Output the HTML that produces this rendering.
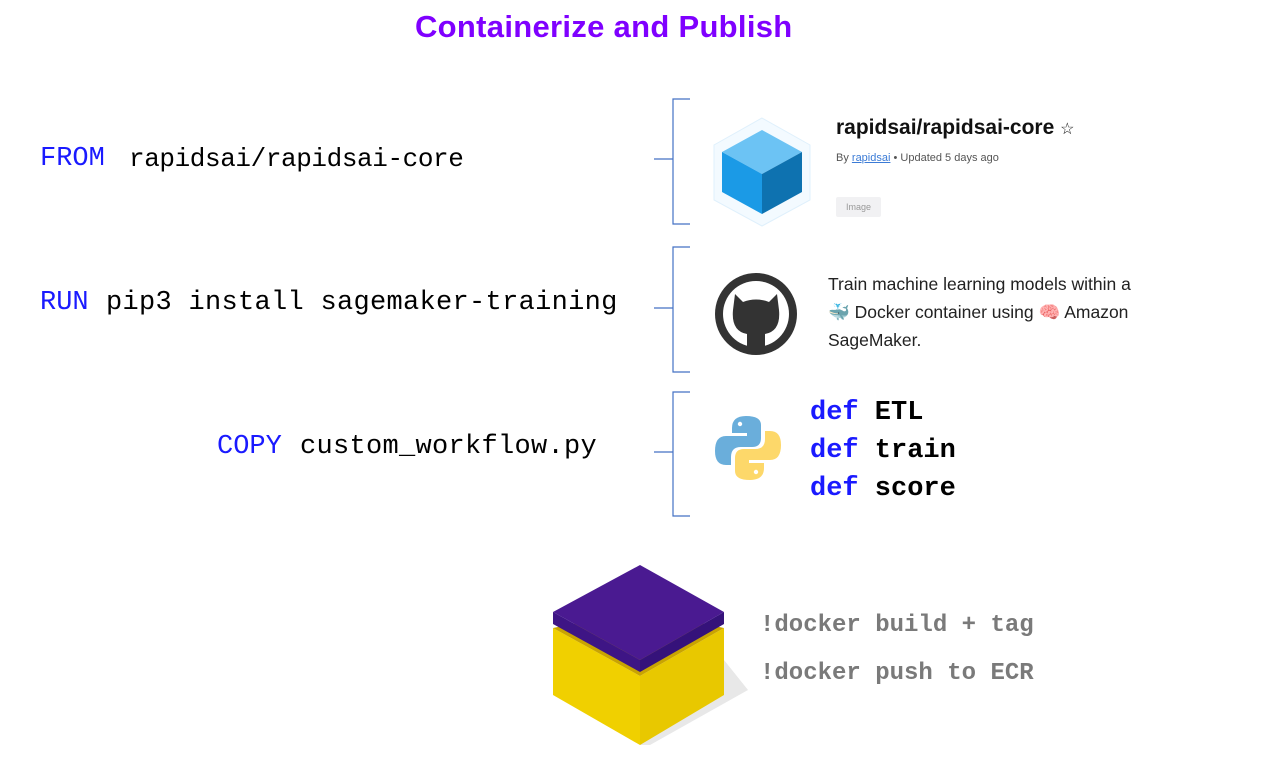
<!DOCTYPE html>
<html><head><meta charset="utf-8"><style>
body{margin:0;width:1272px;height:759px;background:#fff;position:relative;overflow:hidden;font-family:"Liberation Sans",sans-serif}
.t{position:absolute;white-space:pre;line-height:1}
.m{font-family:"Liberation Mono","DejaVu Sans Mono",monospace;font-size:27px}
.kw{color:#1a1aff}
.d{font-weight:bold;color:#000}
.g{font-family:"Liberation Mono",monospace;font-weight:bold;color:#7a7a7a;font-size:24px}
</style></head><body>
<div class="t" style="left:415px;top:11px;font-size:31px;font-weight:bold;color:#7f00ff;letter-spacing:0.3px">Containerize and Publish</div>

<div class="t m" style="left:40px;top:146px"><span class="kw">FROM</span></div>
<div class="t m" style="left:129px;top:146px;font-size:26px;letter-spacing:-0.4px">rapidsai/rapidsai-core</div>
<div class="t m" style="left:40px;top:290px"><span class="kw">RUN</span></div>
<div class="t m" style="left:106px;top:290px;letter-spacing:0.3px">pip3 install sagemaker-training</div>
<div class="t m" style="left:217px;top:434px"><span class="kw">COPY</span></div>
<div class="t m" style="left:300px;top:434px;letter-spacing:0.3px">custom_workflow.py</div>

<svg width="1272" height="759" style="position:absolute;left:0;top:0" xmlns="http://www.w3.org/2000/svg">
<g stroke="#4472c4" stroke-width="1.2" fill="none">
<path d="M690 99H673V224H690M654 159H673"/>
<path d="M690 247H673V372H690M654 308H673"/>
<path d="M690 392H673V516H690M654 452H673"/>
</g>
<!-- blue cube -->
<polygon points="762,118 810,145 810,200 762,226 714,200 714,145" fill="#f3faff" stroke="#dff0fc"/>
<polygon points="762,130 802,152 762,174 722,152" fill="#6cc3f4"/>
<polygon points="722,152 762,174 762,214 722,192" fill="#1b9ae6"/>
<polygon points="802,152 762,174 762,214 802,192" fill="#0e72b0"/>
<!-- github -->
<circle cx="756" cy="314" r="41" fill="#333"/>
<circle cx="756" cy="314" r="33" fill="#fff"/>
<path d="M735 294 L743 302 Q756 297 769 302 L777 294 L779 310 Q781 331 765 334 L765 351 Q756 354 747 351 L747 334 Q731 331 733 310 Z" fill="#333"/>
<!-- python -->
<path d="M746 416 Q732 416 732 428 L732 433 L747 433 L747 436 L726 436 Q715 436 715 451 Q715 465 726 465 L731 465 L731 457 Q731 447 741 447 L752 447 Q761 447 761 438 L761 425 Q761 416 746 416Z" fill="#6aaedb"/>
<path d="M750 480 Q764 480 764 468 L764 463 L749 463 L749 460 L770 460 Q781 460 781 445 Q781 431 770 431 L765 431 L765 439 Q765 449 755 449 L744 449 Q735 449 735 458 L735 471 Q735 480 750 480Z" fill="#fdd86a"/>
<circle cx="740" cy="424" r="2.2" fill="#fff"/><circle cx="756" cy="472" r="2.2" fill="#fff"/>
<!-- shadow -->
<polygon points="724,660 748,690 650,745 640,745" fill="#e8e8e8"/>
<!-- yellow body -->
<polygon points="553,628 640,676 640,745 553,695" fill="#f0d000"/>
<polygon points="724,628 640,676 640,745 724,695" fill="#e8c800"/>
<polygon points="553,628 640,676 724,628 640,610" fill="#c9a400"/>
<!-- lid -->
<polygon points="553,612 640,660 640,672 553,624" fill="#3e1585"/>
<polygon points="724,612 640,660 640,672 724,624" fill="#35127a"/>
<polygon points="640,565 724,612 640,660 553,612" fill="#4a1a91"/>
</svg>

<div class="t" style="left:836px;top:117px;font-size:21px;font-weight:bold;color:#111">rapidsai/rapidsai-core <span style="font-weight:normal;font-size:16px">☆</span></div>
<div class="t" style="left:836px;top:153px;font-size:11px;color:#555">By <span style="color:#3b7bd6;text-decoration:underline">rapidsai</span> • Updated 5 days ago</div>
<div class="t" style="left:836px;top:197px;width:45px;height:20px;background:#f1f1f3;border-radius:2px;font-size:9px;color:#999;line-height:20px;text-align:center">Image</div>

<div class="t" style="left:828px;top:270px;font-size:17.5px;color:#222;line-height:28px">Train machine learning models within a<br><span style="color:#2aa3d8">🐳</span> Docker container using <span style="color:#e57">🧠</span> Amazon<br>SageMaker.</div>

<div class="t m d" style="left:810px;top:400px"><span class="kw">def</span> ETL</div>
<div class="t m d" style="left:810px;top:438px"><span class="kw">def</span> train</div>
<div class="t m d" style="left:810px;top:476px"><span class="kw">def</span> score</div>

<div class="t g" style="left:760px;top:614px">!docker build + tag</div>
<div class="t g" style="left:760px;top:662px">!docker push to ECR</div>
</body></html>
